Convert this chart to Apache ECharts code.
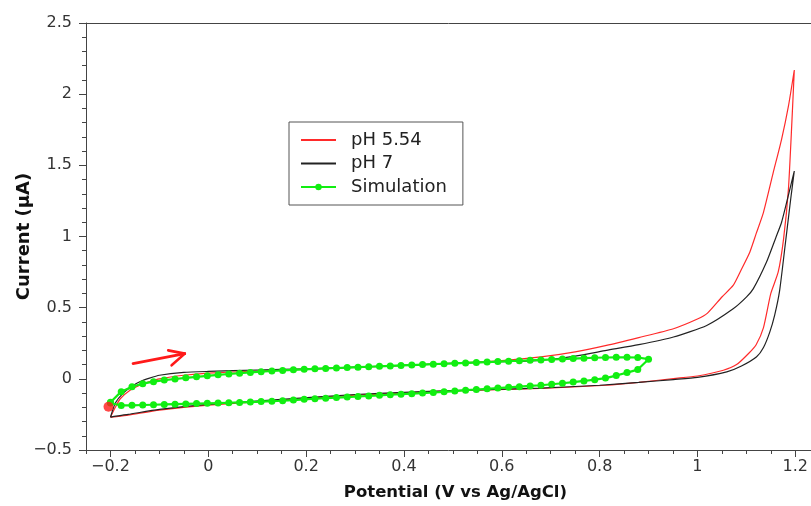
<!DOCTYPE html>
<html>
<head>
<meta charset="utf-8">
<script src="https://cdn.jsdelivr.net/npm/echarts@6/dist/echarts.min.js"></script>
<style>
html,body{margin:0;padding:0;background:#fff;}
#chart{width:811px;height:506px;}
</style>
</head>
<body>
<div id="chart"></div>
<script>
// ---- data ----
const seriesNames = ['pH 5.54', 'pH 7', 'Simulation'];

const ph554X = [-0.2, -0.19, -0.18, -0.16, -0.14, -0.12, -0.1, -0.05, 0, 0.1, 0.2, 0.3, 0.4, 0.5, 0.6, 0.68, 0.75, 0.814, 0.88, 0.951, 1.0, 1.02, 1.05, 1.073, 1.09, 1.107, 1.12, 1.135, 1.155, 1.172, 1.186, 1.198, 1.193, 1.186, 1.176, 1.165, 1.15, 1.135, 1.12, 1.105, 1.08, 1.053, 1.0, 0.951, 0.88, 0.814, 0.678, 0.5, 0.4, 0.3, 0.15, 0, -0.1, -0.164, -0.195, -0.2];
const ph554Y = [-0.27, -0.2, -0.14, -0.08, -0.045, -0.02, 0.0, 0.025, 0.04, 0.055, 0.068, 0.08, 0.095, 0.11, 0.128, 0.154, 0.19, 0.235, 0.29, 0.352, 0.42, 0.46, 0.575, 0.656, 0.77, 0.89, 1.02, 1.17, 1.45, 1.683, 1.916, 2.17, 1.8, 1.333, 0.982, 0.749, 0.6, 0.36, 0.24, 0.18, 0.1, 0.06, 0.02, 0.002, -0.025, -0.045, -0.068, -0.085, -0.1, -0.115, -0.15, -0.185, -0.22, -0.255, -0.268, -0.27];

const ph7X = [-0.2, -0.19, -0.174, -0.155, -0.14, -0.12, -0.1, -0.05, 0, 0.1, 0.2, 0.3, 0.4, 0.5, 0.6, 0.678, 0.75, 0.814, 0.88, 0.951, 1.019, 1.073, 1.1, 1.114, 1.141, 1.16, 1.172, 1.189, 1.198, 1.192, 1.189, 1.179, 1.168, 1.158, 1.148, 1.135, 1.121, 1.09, 1.06, 1.0, 0.951, 0.88, 0.8, 0.678, 0.5, 0.4, 0.3, 0.15, 0, -0.1, -0.164, -0.195, -0.2];
const ph7Y = [-0.27, -0.17, -0.1, -0.05, -0.02, 0.005, 0.025, 0.045, 0.052, 0.062, 0.07, 0.082, 0.095, 0.108, 0.12, 0.13, 0.16, 0.2, 0.24, 0.294, 0.375, 0.492, 0.574, 0.632, 0.819, 0.99, 1.1, 1.333, 1.46, 1.3, 1.216, 0.93, 0.62, 0.45, 0.33, 0.22, 0.155, 0.09, 0.049, 0.01, -0.005, -0.025, -0.045, -0.065, -0.082, -0.095, -0.11, -0.145, -0.18, -0.215, -0.25, -0.265, -0.27];

const simForwardX = [-0.2, -0.178, -0.156, -0.134, -0.112, -0.09, -0.068, -0.046, -0.024, -0.002, 0.02, 0.042, 0.064, 0.086, 0.108, 0.13, 0.152, 0.174, 0.196, 0.218, 0.24, 0.262, 0.284, 0.306, 0.328, 0.35, 0.372, 0.394, 0.416, 0.438, 0.46, 0.482, 0.504, 0.526, 0.548, 0.57, 0.592, 0.614, 0.636, 0.658, 0.68, 0.702, 0.724, 0.746, 0.768, 0.79, 0.812, 0.834, 0.856, 0.878, 0.9];
const simForwardY = [-0.165, -0.09, -0.056, -0.034, -0.02, -0.009, -0.001, 0.007, 0.014, 0.021, 0.028, 0.034, 0.04, 0.045, 0.05, 0.055, 0.059, 0.063, 0.067, 0.07, 0.073, 0.076, 0.079, 0.082, 0.085, 0.088, 0.091, 0.094, 0.097, 0.1, 0.103, 0.106, 0.109, 0.112, 0.115, 0.118, 0.121, 0.124, 0.127, 0.13, 0.133, 0.136, 0.139, 0.142, 0.145, 0.148, 0.15, 0.151, 0.151, 0.15, 0.138];
const simReturnX = [0.878, 0.856, 0.834, 0.812, 0.79, 0.768, 0.746, 0.724, 0.702, 0.68, 0.658, 0.636, 0.614, 0.592, 0.57, 0.548, 0.526, 0.504, 0.482, 0.46, 0.438, 0.416, 0.394, 0.372, 0.35, 0.328, 0.306, 0.284, 0.262, 0.24, 0.218, 0.196, 0.174, 0.152, 0.13, 0.108, 0.086, 0.064, 0.042, 0.02, -0.002, -0.024, -0.046, -0.068, -0.09, -0.112, -0.134, -0.156, -0.178, -0.2];
const simReturnY = [0.065, 0.044, 0.023, 0.005, -0.006, -0.015, -0.023, -0.031, -0.038, -0.045, -0.05, -0.055, -0.06, -0.065, -0.07, -0.075, -0.08, -0.086, -0.091, -0.096, -0.1, -0.104, -0.108, -0.112, -0.116, -0.12, -0.124, -0.128, -0.132, -0.136, -0.14, -0.144, -0.149, -0.154, -0.157, -0.16, -0.163, -0.166, -0.168, -0.17, -0.172, -0.174, -0.176, -0.178, -0.18, -0.182, -0.184, -0.186, -0.187, -0.17];

const startDotX = [-0.204];
const startDotY = [-0.196];

// scan-direction arrow (data coordinates): shaft, upper wing, lower wing
const arrowSegX = [[-0.154, -0.048], [-0.082, -0.048], [-0.075, -0.048]];
const arrowSegY = [[0.107, 0.177], [0.200, 0.177], [0.095, 0.177]];

const xMajorTicks = [-0.2, 0, 0.2, 0.4, 0.6, 0.8, 1, 1.2];

// ---- build ----
const zip = (xs, ys) => xs.map((x, i) => [x, ys[i]]);
const simData = zip(simForwardX, simForwardY).concat(zip(simReturnX, simReturnY));
const arrowData = arrowSegX.map((xs, i) => ({ coords: [[xs[0], arrowSegY[i][0]], [xs[1], arrowSegY[i][1]]] }));

const FONT = 'DejaVu Sans';
const X_MIN = -0.25, X_MAX = 1.232;
const fmt = v => {
  let s = (Math.round(v * 100) / 100).toString();
  return s.replace('-', '\u2212');
};
const AX = '#444';

const chart = echarts.init(document.getElementById('chart'), null, { renderer: 'canvas' });
chart.setOption({
  animation: false,
  backgroundColor: '#fff',
  grid: { left: 86, right: 0, top: 23, bottom: 54, show: false },
  legend: {
    data: seriesNames.map((n, i) => i < 2 ? { name: n, itemStyle: { opacity: 0 } } : { name: n }),
    orient: 'vertical',
    left: 289, top: 122,
    backgroundColor: '#fff',
    borderColor: '#555', borderWidth: 1, borderRadius: 0,
    padding: [8, 16, 8, 11],
    itemWidth: 35, itemHeight: 8, itemGap: 3.5,
    textStyle: { fontFamily: FONT, fontSize: 18, color: '#222', lineHeight: 20, padding: [0, 0, 0, 10] }
  },
  xAxis: [{
    type: 'value', min: X_MIN, max: X_MAX, interval: 0.05, position: 'bottom',
    axisLine: { show: true, onZero: false, lineStyle: { color: AX, width: 1 } },
    axisTick: { show: true, length: 4, lineStyle: { color: AX } },
    axisLabel: { show: false },
    splitLine: { show: false },
    name: 'Potential (V vs Ag/AgCl)', nameLocation: 'middle', nameGap: 34, nameMoveOverlap: false,
    nameTextStyle: { fontFamily: FONT, fontSize: 16.5, fontWeight: 'bold', color: '#111', padding: [0, 0, 0, 14] }
  }, {
    type: 'value', min: X_MIN, max: X_MAX, position: 'bottom',
    axisLine: { show: false, onZero: false },
    axisTick: { show: true, length: 7, customValues: xMajorTicks, lineStyle: { color: AX } },
    axisLabel: { show: true, customValues: xMajorTicks, margin: 9, formatter: fmt, fontFamily: FONT, fontSize: 16, color: '#333' },
    splitLine: { show: false }
  }, {
    type: 'value', min: X_MIN, max: X_MAX, position: 'top',
    axisLine: { show: true, onZero: false, lineStyle: { color: AX, width: 1 } },
    axisTick: { show: false }, axisLabel: { show: false }, splitLine: { show: false }
  }],
  yAxis: {
    type: 'value', min: -0.5, max: 2.5, interval: 0.5,
    axisLine: { show: true, onZero: false, lineStyle: { color: AX, width: 1 } },
    axisTick: { show: true, length: 7, lineStyle: { color: AX } },
    minorTick: { show: true, splitNumber: 5, length: 4, lineStyle: { color: AX } },
    axisLabel: { margin: 14, formatter: fmt, fontFamily: FONT, fontSize: 16, color: '#333' },
    splitLine: { show: false },
    name: 'Current (\u03bcA)', nameLocation: 'middle', nameGap: 53, nameMoveOverlap: false,
    nameTextStyle: { fontFamily: FONT, fontSize: 18, fontWeight: 'bold', color: '#111' }
  },
  series: [{
    name: 'pH 5.54', type: 'line', xAxisIndex: 0, data: zip(ph554X, ph554Y),
    symbol: 'circle', showSymbol: false, smooth: 0.2,
    lineStyle: { color: '#ff2a2a', width: 1.2 }, itemStyle: { color: '#ff2a2a' }, z: 2
  }, {
    name: 'pH 7', type: 'line', xAxisIndex: 0, data: zip(ph7X, ph7Y),
    symbol: 'circle', showSymbol: false, smooth: 0.2,
    lineStyle: { color: '#222', width: 1.2 }, itemStyle: { color: '#222' }, z: 3
  }, {
    name: 'Simulation', type: 'line', xAxisIndex: 0, data: simData,
    symbol: 'circle', symbolSize: 7, showSymbol: true,
    lineStyle: { color: '#11ee11', width: 2.2 }, itemStyle: { color: '#11ee11' }, z: 4
  }, {
    name: 'start', type: 'scatter', xAxisIndex: 0, data: zip(startDotX, startDotY),
    symbol: 'circle', symbolSize: 10, itemStyle: { color: '#ff1a1a' }, z: 5
  }, {
    name: 'arrow', type: 'lines', coordinateSystem: 'cartesian2d', xAxisIndex: 0, data: arrowData,
    lineStyle: { color: '#ff1a1a', width: 2.6, opacity: 1, cap: 'round' }, z: 5
  }]
});
</script>
</body>
</html>
